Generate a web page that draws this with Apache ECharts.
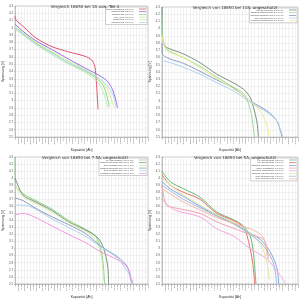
<!DOCTYPE html>
<html><head><meta charset="utf-8">
<script src="https://cdn.jsdelivr.net/npm/echarts@6/dist/echarts.min.js"></script>
<style>html,body{margin:0;padding:0;background:#fff}#c{width:300px;height:300px}</style>
</head><body><div id="c"></div>
<script>
var titles = ["Vergleich 18650 bei 3A usw, Teil 3","Vergleich von 18650 bei 10A, ungeschützt","Vergleich von 18650 bei 7.5A, ungeschützt","Vergleich von 18650 bei 5A, ungeschützt"];
var yTicks = {min:2.5,max:4.3,step:0.1};
var xTicks = {min:0,max:3.3,step:0.075};

// Panel 1
var p1_red = [[0,4.16],[0.01,4.12],[0.2,4.02],[0.52,3.86],[0.92,3.74],[1.33,3.67],[1.73,3.61],[1.9,3.56],[1.98,3.47],[2.02,3.24],[2.06,2.88]];
var p1_purple = [[0,4.05],[0.2,3.95],[0.52,3.82],[0.92,3.70],[1.33,3.57],[1.73,3.45],[2.14,3.33],[2.30,3.26],[2.42,3.15],[2.50,3.01],[2.54,2.90]];
var p1_green = [[0,4.0],[0.2,3.92],[0.52,3.79],[0.92,3.66],[1.33,3.52],[1.73,3.41],[2.06,3.29],[2.22,3.17],[2.34,2.92]];
var p1_lgreen = [[0,3.98],[0.2,3.9],[0.52,3.77],[0.92,3.63],[1.33,3.50],[1.73,3.39],[2.06,3.25],[2.2,3.1],[2.3,2.9]];
var p1_ygreen = [[0,4.02],[0.52,3.80],[0.92,3.67],[1.33,3.54],[1.73,3.43],[2.1,3.3],[2.3,3.15],[2.4,3.0],[2.46,2.9]];
var p1_cyan = [[0,4.0],[0.52,3.78],[0.92,3.65],[1.33,3.52],[1.73,3.42],[2.1,3.3],[2.3,3.2],[2.45,3.05],[2.5,2.92]];
// Panel 2
var p2_dgreen = [[0,4.3],[0.01,3.9],[0.05,3.78],[0.11,3.74],[0.52,3.65],[0.92,3.53],[1.33,3.37],[1.73,3.25],[1.98,3.16],[2.14,3.05],[2.22,2.91],[2.30,2.72],[2.34,2.5]];
var p2_lgreen = [[0,4.2],[0.01,3.88],[0.11,3.72],[0.52,3.60],[0.92,3.48],[1.33,3.33],[1.73,3.19],[1.98,3.1],[2.1,2.96],[2.18,2.78],[2.24,2.5]];
var p2_gblue = [[0,3.8],[0.01,3.65],[0.2,3.58],[0.52,3.52],[0.92,3.41],[1.33,3.29],[1.73,3.18],[2.14,3.0],[2.55,2.86],[2.79,2.72],[2.91,2.5]];
var p2_lblue = [[0,3.56],[0.36,3.5],[0.92,3.37],[1.33,3.25],[1.73,3.14],[2.14,2.98],[2.55,2.84],[2.79,2.72],[2.91,2.54],[2.95,2.5]];
var p2_yellow = [[0,3.9],[0.11,3.7],[0.52,3.6],[0.92,3.46],[1.33,3.31],[1.73,3.17],[2.14,3.0],[2.4,2.85],[2.55,2.65],[2.6,2.5]];
// Panel 3
var p3_green = [[0,4.3],[0.01,3.9],[0.2,3.78],[0.52,3.68],[0.92,3.56],[1.33,3.4],[1.73,3.28],[1.98,3.19],[2.1,3.05],[2.18,2.82],[2.22,2.5]];
var p3_dgray = [[0,4.0],[0.2,3.76],[0.52,3.66],[0.92,3.54],[1.33,3.38],[1.73,3.27],[2.06,3.15],[2.2,3.0],[2.3,2.75],[2.32,2.5]];
var p3_ygreen = [[0,3.9],[0.2,3.74],[0.52,3.64],[0.92,3.52],[1.33,3.37],[1.73,3.25],[2.0,3.13],[2.12,2.95],[2.18,2.7],[2.2,2.55]];
var p3_gblue = [[0,3.72],[0.2,3.68],[0.52,3.57],[0.92,3.45],[1.33,3.34],[1.73,3.22],[2.14,3.03],[2.55,2.88],[2.79,2.74],[2.91,2.5]];
var p3_lblue = [[0,3.62],[0.36,3.6],[0.92,3.42],[1.33,3.3],[1.73,3.18],[2.14,3.02],[2.55,2.86],[2.87,2.6],[2.93,2.5]];
var p3_pink = [[0,3.48],[0.2,3.5],[0.44,3.46],[0.92,3.32],[1.33,3.2],[1.73,3.09],[2.14,2.95],[2.55,2.84],[2.79,2.73],[2.87,2.55],[2.9,2.5]];
// Panel 4
var p4_green = [[0,4.1],[0.2,3.95],[0.52,3.85],[0.92,3.73],[1.33,3.52],[1.73,3.41],[1.98,3.32],[2.14,3.18],[2.22,2.93],[2.28,2.5]];
var p4_red = [[0,4.05],[0.2,3.9],[0.52,3.8],[0.92,3.7],[1.33,3.5],[1.73,3.4],[1.98,3.3],[2.1,3.1],[2.2,2.8],[2.25,2.5]];
var p4_blue = [[0,3.95],[0.2,3.85],[0.52,3.74],[0.92,3.6],[1.33,3.47],[1.73,3.36],[2.14,3.22],[2.38,3.13],[2.63,2.95],[2.79,2.72],[2.83,2.5]];
var p4_pinkhi = [[0,3.9],[0.1,3.62],[0.3,3.58],[0.92,3.5],[1.33,3.38],[1.73,3.29],[2.14,3.2],[2.46,3.13],[2.55,3.0],[2.58,2.85]];
var p4_pinklo = [[0,3.7],[0.3,3.55],[0.92,3.45],[1.33,3.28],[1.73,3.18],[2.14,3.0],[2.55,2.85],[2.87,2.62],[3.0,2.5]];
var p4_ygreen = [[0,4.0],[0.52,3.76],[0.92,3.62],[1.33,3.48],[1.73,3.38],[2.14,3.22],[2.4,3.05],[2.55,2.8],[2.6,2.55]];
var p4_gblue = [[0,3.9],[0.52,3.7],[0.92,3.58],[1.33,3.46],[1.73,3.35],[2.14,3.2],[2.45,3.05],[2.7,2.8],[2.78,2.5]];
var p4_salmon = [[0,3.85],[0.52,3.66],[0.92,3.55],[1.33,3.44],[1.73,3.36],[2.14,3.28],[2.4,3.2],[2.5,3.1],[2.55,2.9]];

var panels = [
 {grid:{left:12,top:6,width:136,height:131}, legend:{right:153,top:7}, series:[
   ["Sanyo UR18650FM, 2.6Ah, 3A",p1_red,"#e2506a"],
   ["Samsung 25R, 2.5Ah, 3A",p1_purple,"#9a6ae8"],
   ["Samsung 26F, 2.6Ah, 3A",p1_green,"#8ad88a"],
   ["Sony VTC4, 2.1Ah, 3A",p1_lgreen,"#bdeeb0"],
   ["Panasonic B, 3.4Ah, 3A",p1_ygreen,"#d8ec9a"],
   ["Samsung 30Q, 3.0Ah, 3A",p1_cyan,"#b0dcee"]]},
 {grid:{left:162,top:7,width:136,height:130}, legend:{right:3,top:8}, series:[
   ["LG HE2 INR18650, 2.5Ah, 10A",p2_dgreen,"#7f8f80"],
   ["Samsung INR18650-25R, 2.5Ah, 10A",p2_lgreen,"#9adc9a"],
   ["Samsung INR18650-30Q, 3.0Ah, 10A",p2_gblue,"#8c9cc0"],
   ["Sony US18650VTC6, 3.0Ah, 10A",p2_lblue,"#aed0f0"],
   ["Panasonic NCR18650PF, 2.9Ah, 10A",p2_yellow,"#ecec8c"]]},
 {grid:{left:12,top:157,width:136,height:131}, legend:{right:153,top:158}, series:[
   ["LG HE2 INR18650, 2.5Ah, 7.5A",p3_green,"#88d888"],
   ["Samsung INR18650-25R, 2.5Ah, 7.5A",p3_dgray,"#7f8f80"],
   ["Sony US18650VTC4, 2.1Ah, 7.5A",p3_ygreen,"#d0ea9a"],
   ["Samsung INR18650-30Q, 3.0Ah, 7.5A",p3_gblue,"#8c9cc0"],
   ["Sony US18650VTC6, 3.0Ah, 7.5A",p3_lblue,"#aed0f0"],
   ["Panasonic NCR18650PF, 2.9Ah, 7.5A",p3_pink,"#ee99dd"]]},
 {grid:{left:162,top:157,width:136,height:131}, legend:{right:3,top:158}, series:[
   ["LG HE2 INR18650, 2.5Ah, 5A",p4_green,"#66bb77"],
   ["LG HD2 INR18650, 2.0Ah, 5A",p4_red,"#e8706a"],
   ["Samsung INR18650-30Q, 3.0Ah, 5A",p4_blue,"#7fa8e0"],
   ["Sanyo UR18650FM, 2.6Ah, 5A",p4_pinkhi,"#f0a0b0"],
   ["Panasonic NCR18650PF, 2.9Ah, 5A",p4_pinklo,"#f0a8e0"],
   ["Samsung INR18650-25R, 2.5Ah, 5A",p4_ygreen,"#d8ec9a"],
   ["Sony US18650VTC6, 3.0Ah, 5A",p4_gblue,"#a8b8d8"],
   ["Sony US18650VTC5, 2.6Ah, 5A",p4_salmon,"#f4b8a8"]]}
];

var option = {animation:false, backgroundColor:'#fff', title:[], legend:[], grid:[], xAxis:[], yAxis:[], series:[]};
panels.forEach(function(p,i){
  option.grid.push(Object.assign({containLabel:false, show:true, borderColor:'#999', borderWidth:0.5, backgroundColor:'#fff'}, p.grid));
  option.title.push({text:titles[i], left:p.grid.left+p.grid.width/2, top:p.grid.top-6, textAlign:'center',
    textStyle:{fontSize:4, fontWeight:'normal', color:'#333', fontFamily:'DejaVu Sans'}});
  option.xAxis.push({type:'value', gridIndex:i, min:xTicks.min, max:xTicks.max, interval:xTicks.step,
    name:'Kapazität [Ah]', nameLocation:'middle', nameGap:7, nameTextStyle:{fontSize:3.5, color:'#333'},
    axisLine:{show:true, onZero:false, lineStyle:{color:'#999', width:0.5}}, axisTick:{show:true, length:1, lineStyle:{color:'#999', width:0.5}},
    axisLabel:{fontSize:2.5, rotate:90, margin:1, color:'#555', formatter:function(v){return (Math.round(v*1000)/1000).toString();}},
    splitLine:{show:true, lineStyle:{color:'#e4e4e4', width:0.5}}});
  option.yAxis.push({type:'value', gridIndex:i, min:yTicks.min, max:yTicks.max, interval:yTicks.step,
    name:'Spannung [V]', nameLocation:'middle', nameGap:8, nameTextStyle:{fontSize:3.5, color:'#333'},
    axisLine:{show:true, onZero:false, lineStyle:{color:'#999', width:0.5}}, axisTick:{show:true, length:1, lineStyle:{color:'#999', width:0.5}},
    axisLabel:{fontSize:3, margin:2, color:'#555', formatter:function(v){return (Math.round(v*10)/10).toString();}},
    splitLine:{show:true, lineStyle:{color:'#e4e4e4', width:0.5}}});
  var names = [];
  p.series.forEach(function(s){
    names.push(s[0]);
    option.series.push({type:'line', name:s[0], xAxisIndex:i, yAxisIndex:i, data:s[1], showSymbol:false, smooth:0.3,
      lineStyle:{color:s[2], width:1}, itemStyle:{color:s[2]}});
  });
  option.legend.push(Object.assign({orient:'vertical', data:names, align:'right', itemWidth:7, itemHeight:0.8, itemGap:0.7,
    padding:[1,1,1,1], borderColor:'#888', borderWidth:0.4, backgroundColor:'#fff',
    textStyle:{fontSize:2, lineHeight:2, color:'#444', padding:0}, icon:'rect'}, p.legend));
});
var chart = echarts.init(document.getElementById('c'), null, {renderer:'canvas'});
chart.setOption(option);
</script></body></html>
